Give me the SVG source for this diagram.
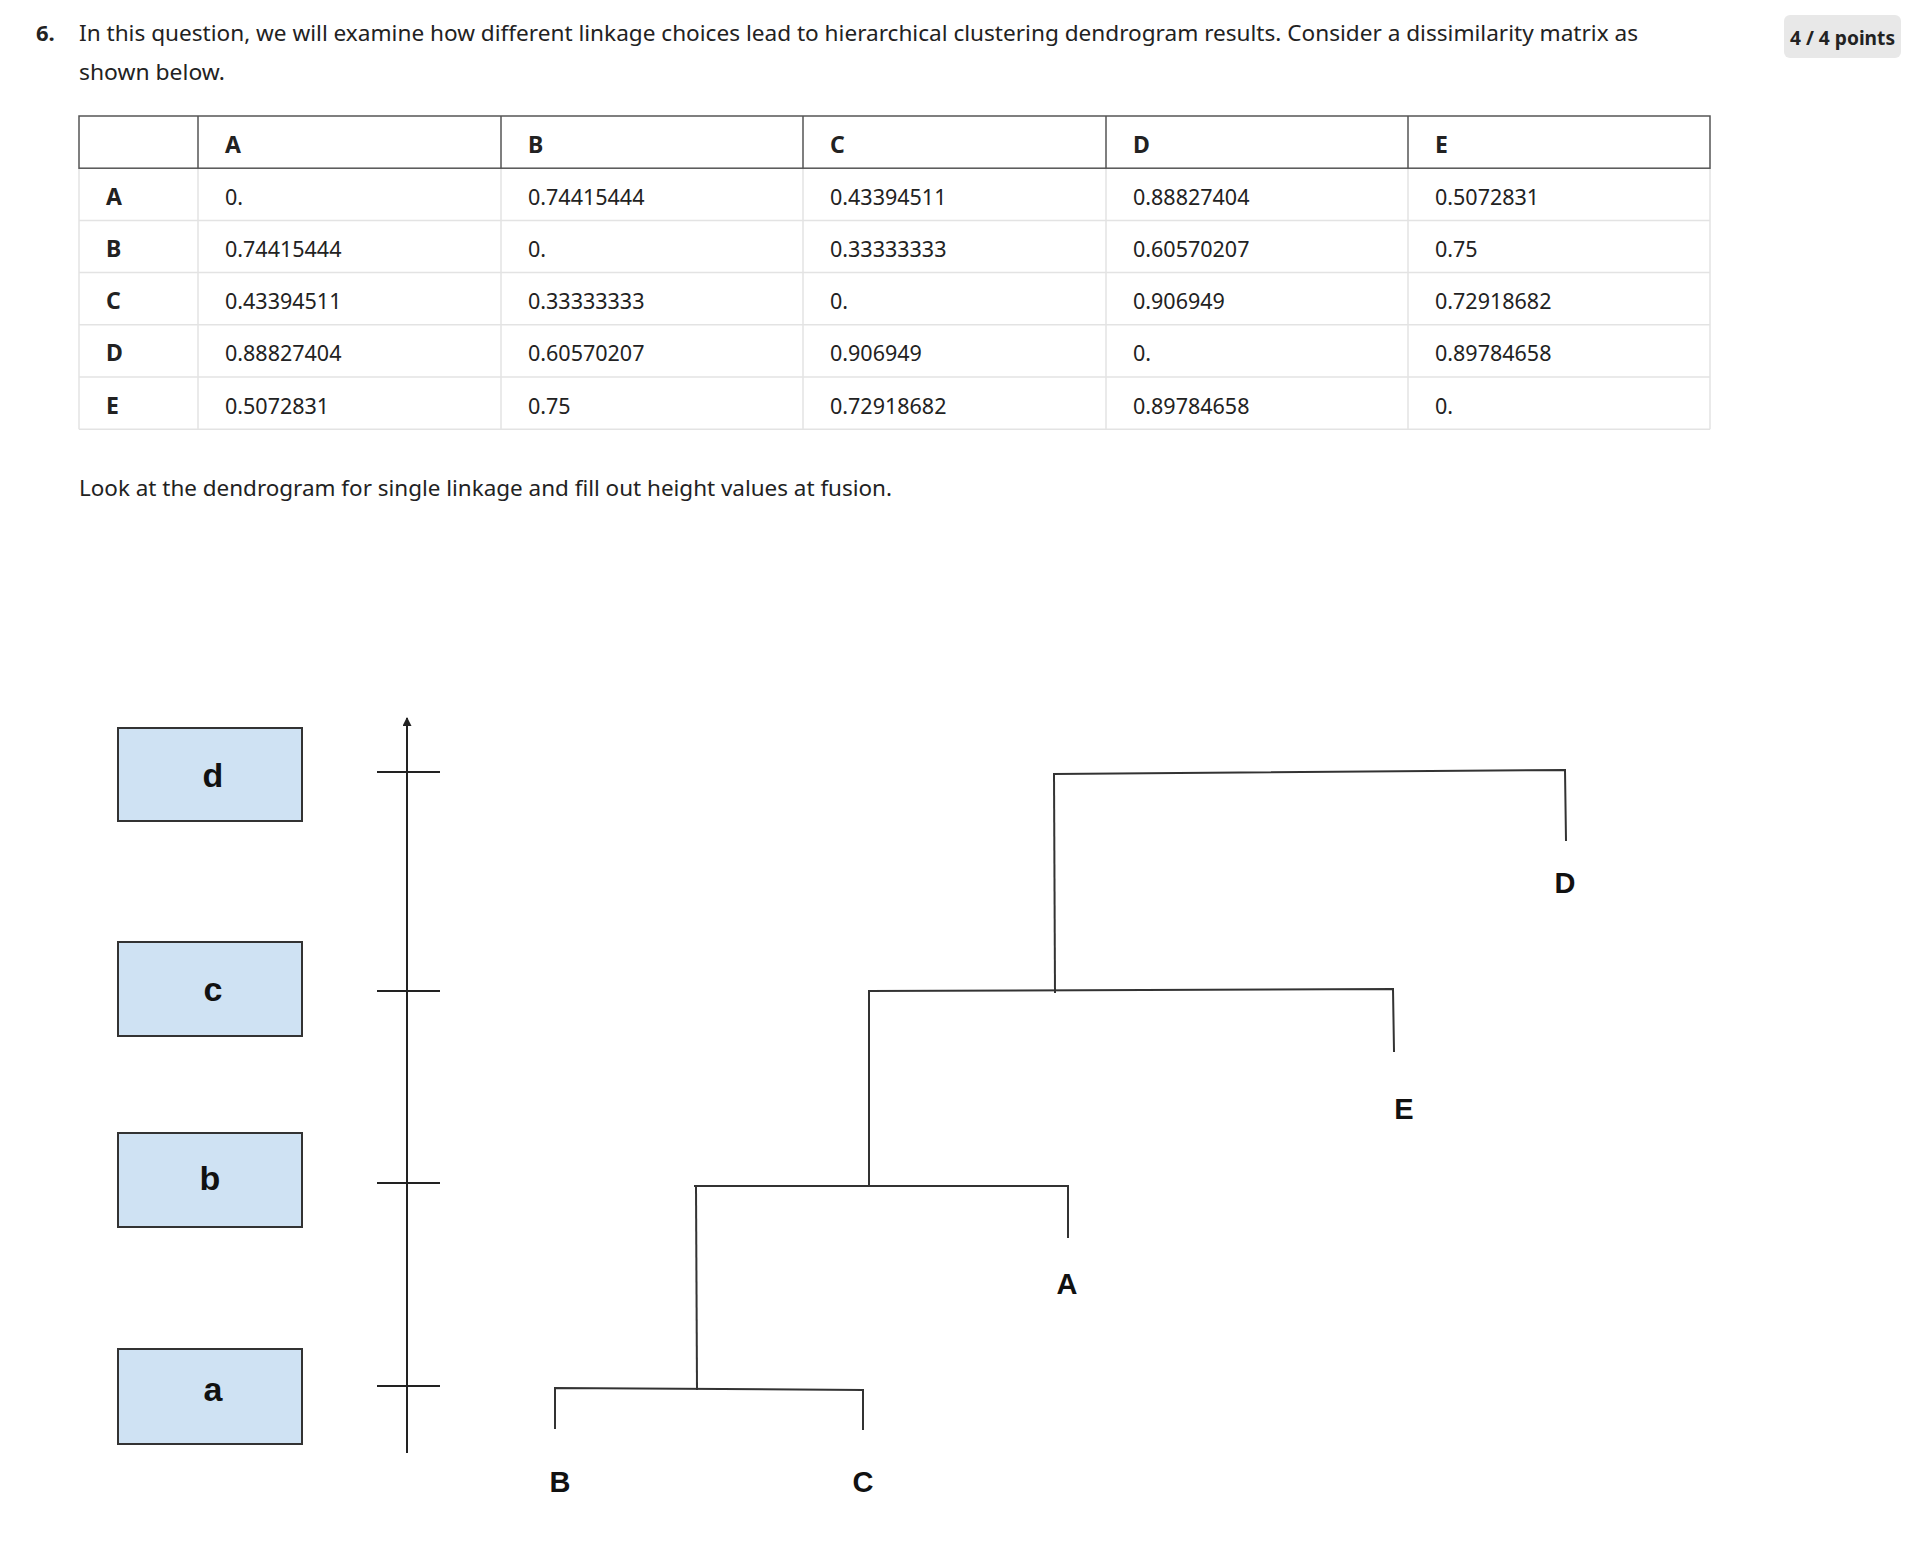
<svg xmlns="http://www.w3.org/2000/svg" width="1908" height="1552" viewBox="0 0 1908 1552">
<style>
.p{font-family:"Noto Sans","Open Sans",sans-serif;font-size:22px;fill:#222}
.pb{font-family:"Noto Sans","Open Sans",sans-serif;font-size:22px;font-weight:bold;fill:#222}
.t{font-family:"Noto Sans","Open Sans",sans-serif;font-size:21.5px;fill:#222}
.tb{font-family:"Noto Sans","Open Sans",sans-serif;font-size:23px;font-weight:bold;fill:#222}
.hd{stroke:#555;stroke-width:1.5;fill:none}
.lt{stroke:#e3e3e3;stroke-width:1.5;fill:none}
.box{fill:#cfe2f3;stroke:#333;stroke-width:2}
.bl{font-family:"Liberation Sans",Arial,sans-serif;font-size:34px;font-weight:bold;fill:#111;text-anchor:middle}
.ll{font-family:"Liberation Sans",Arial,sans-serif;font-size:29px;font-weight:bold;fill:#111;text-anchor:middle}
.ln{stroke:#333;stroke-width:2;fill:none;stroke-linecap:square}
.ax{stroke:#222;stroke-width:2;fill:none}
</style>
<defs>
<marker id="arr" viewBox="0 0 10 10" refX="9" refY="5" markerWidth="11" markerHeight="9" markerUnits="userSpaceOnUse" orient="auto">
<path d="M0,0 L10,5 L0,10 Z" fill="#222"/>
</marker>
</defs>
<rect width="1908" height="1552" fill="#fff"/>

<g id="question">
<text class="pb" x="36" y="41">6.</text>
<text class="p" x="79" y="41" textLength="1559" lengthAdjust="spacingAndGlyphs">In this question, we will examine how different linkage choices lead to hierarchical clustering dendrogram results. Consider a dissimilarity matrix as</text>
<text class="p" x="79" y="80" textLength="146" lengthAdjust="spacingAndGlyphs">shown below.</text>
</g>

<g id="badge">
<rect x="1784" y="15" width="117" height="43" rx="6" fill="#e8e8e8"/>
<text class="pb" x="1790" y="45" textLength="105" lengthAdjust="spacingAndGlyphs" style="font-size:20px">4 / 4 points</text>
</g>

<g id="table">
<g class="lt">
<line x1="79" y1="220.4" x2="1710" y2="220.4"/>
<line x1="79" y1="272.6" x2="1710" y2="272.6"/>
<line x1="79" y1="324.8" x2="1710" y2="324.8"/>
<line x1="79" y1="377" x2="1710" y2="377"/>
<line x1="79" y1="429.2" x2="1710" y2="429.2"/>
<line x1="79" y1="168.2" x2="79" y2="429.2"/>
<line x1="198" y1="168.2" x2="198" y2="429.2"/>
<line x1="501" y1="168.2" x2="501" y2="429.2"/>
<line x1="803" y1="168.2" x2="803" y2="429.2"/>
<line x1="1106" y1="168.2" x2="1106" y2="429.2"/>
<line x1="1408" y1="168.2" x2="1408" y2="429.2"/>
<line x1="1710" y1="168.2" x2="1710" y2="429.2"/>
</g>
<g class="hd">
<rect x="79" y="116" width="1631" height="52.2"/>
<line x1="198" y1="116" x2="198" y2="168.2"/>
<line x1="501" y1="116" x2="501" y2="168.2"/>
<line x1="803" y1="116" x2="803" y2="168.2"/>
<line x1="1106" y1="116" x2="1106" y2="168.2"/>
<line x1="1408" y1="116" x2="1408" y2="168.2"/>
</g>
<text class="tb" x="225" y="152.5">A</text>
<text class="tb" x="528" y="152.5">B</text>
<text class="tb" x="830" y="152.5">C</text>
<text class="tb" x="1133" y="152.5">D</text>
<text class="tb" x="1435" y="152.5">E</text>

<text class="tb" x="106" y="204.7">A</text>
<text class="t" x="225" y="204.7">0.</text>
<text class="t" x="528" y="204.7">0.74415444</text>
<text class="t" x="830" y="204.7">0.43394511</text>
<text class="t" x="1133" y="204.7">0.88827404</text>
<text class="t" x="1435" y="204.7">0.5072831</text>

<text class="tb" x="106" y="256.9">B</text>
<text class="t" x="225" y="256.9">0.74415444</text>
<text class="t" x="528" y="256.9">0.</text>
<text class="t" x="830" y="256.9">0.33333333</text>
<text class="t" x="1133" y="256.9">0.60570207</text>
<text class="t" x="1435" y="256.9">0.75</text>

<text class="tb" x="106" y="309.1">C</text>
<text class="t" x="225" y="309.1">0.43394511</text>
<text class="t" x="528" y="309.1">0.33333333</text>
<text class="t" x="830" y="309.1">0.</text>
<text class="t" x="1133" y="309.1">0.906949</text>
<text class="t" x="1435" y="309.1">0.72918682</text>

<text class="tb" x="106" y="361.3">D</text>
<text class="t" x="225" y="361.3">0.88827404</text>
<text class="t" x="528" y="361.3">0.60570207</text>
<text class="t" x="830" y="361.3">0.906949</text>
<text class="t" x="1133" y="361.3">0.</text>
<text class="t" x="1435" y="361.3">0.89784658</text>

<text class="tb" x="106" y="413.5">E</text>
<text class="t" x="225" y="413.5">0.5072831</text>
<text class="t" x="528" y="413.5">0.75</text>
<text class="t" x="830" y="413.5">0.72918682</text>
<text class="t" x="1133" y="413.5">0.89784658</text>
<text class="t" x="1435" y="413.5">0.</text>
</g>

<g id="instruction">
<text class="p" x="79" y="496" textLength="813" lengthAdjust="spacingAndGlyphs">Look at the dendrogram for single linkage and fill out height values at fusion.</text>
</g>

<g id="box-d"><rect class="box" x="118" y="728" width="184" height="93"/><text class="bl" x="213" y="787">d</text></g>
<g id="box-c"><rect class="box" x="118" y="942" width="184" height="94"/><text class="bl" x="213" y="1001">c</text></g>
<g id="box-b"><rect class="box" x="118" y="1133" width="184" height="94"/><text class="bl" x="210" y="1190">b</text></g>
<g id="box-a"><rect class="box" x="118" y="1349" width="184" height="95"/><text class="bl" x="213" y="1401">a</text></g>

<g id="axis">
<line class="ax" x1="407" y1="1453" x2="407" y2="718" marker-end="url(#arr)"/>
<line class="ax" x1="377" y1="772" x2="440" y2="772"/>
<line class="ax" x1="377" y1="991" x2="440" y2="991"/>
<line class="ax" x1="377" y1="1183" x2="440" y2="1183"/>
<line class="ax" x1="377" y1="1386" x2="440" y2="1386"/>
</g>

<g id="leaf-B"><text class="ll" x="560" y="1492">B</text></g>
<g id="leaf-C"><text class="ll" x="863" y="1492">C</text></g>
<g id="leaf-A"><text class="ll" x="1067" y="1294">A</text></g>
<g id="leaf-E"><text class="ll" x="1404" y="1119">E</text></g>
<g id="leaf-D"><text class="ll" x="1565" y="893">D</text></g>

<g id="connectors">
<polyline class="ln" points="555,1428 555,1388 863,1390 863,1429"/>
<line class="ln" x1="697" y1="1389" x2="696" y2="1186"/>
<polyline class="ln" points="695,1186 1068,1186 1068,1237"/>
<line class="ln" x1="869" y1="1186" x2="869" y2="991"/>
<polyline class="ln" points="869,991 1393,989 1394,1051"/>
<line class="ln" x1="1055" y1="992" x2="1054" y2="774"/>
<polyline class="ln" points="1054,774 1565,770 1566,840"/>
</g>
</svg>
